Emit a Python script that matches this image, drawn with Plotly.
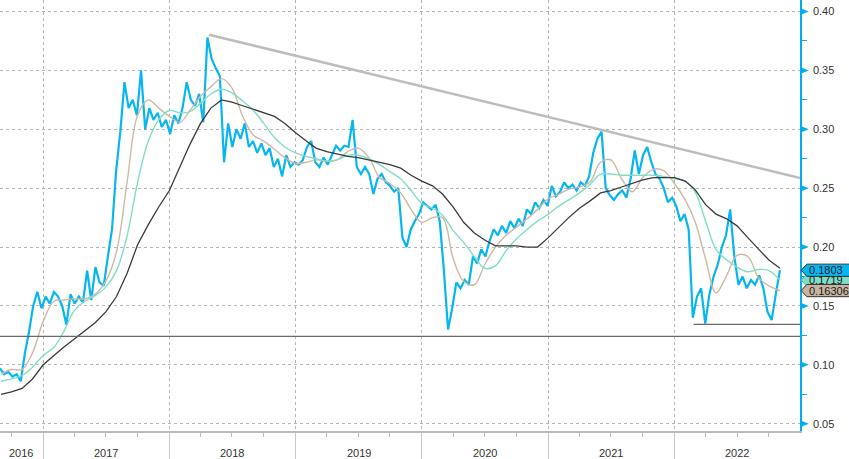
import pandas as pd
import plotly.graph_objects as go

# ---------------- data ----------------
price_start = "2016-08-29"
price_step = "12D"
price_vals = [
    0.097, 0.092, 0.094, 0.090, 0.092, 0.086, 0.110, 0.128, 0.150, 0.162,
    0.148, 0.158, 0.152, 0.162, 0.158, 0.150, 0.134, 0.160, 0.152, 0.158,
    0.153, 0.180, 0.155, 0.183, 0.170, 0.167, 0.192, 0.215, 0.265, 0.298,
    0.340, 0.318, 0.325, 0.312, 0.350, 0.300, 0.318, 0.308, 0.314, 0.302,
    0.308, 0.296, 0.312, 0.305, 0.318, 0.340, 0.325, 0.320, 0.330, 0.306,
    0.378, 0.360, 0.352, 0.345, 0.272, 0.305, 0.285, 0.300, 0.292, 0.305,
    0.285, 0.290, 0.280, 0.288, 0.278, 0.284, 0.268, 0.275, 0.260, 0.278,
    0.268, 0.272, 0.270, 0.274, 0.285, 0.290, 0.272, 0.268, 0.276, 0.270,
    0.278, 0.286, 0.282, 0.286, 0.285, 0.308, 0.268, 0.262, 0.268, 0.262,
    0.245, 0.258, 0.262, 0.255, 0.252, 0.247, 0.250, 0.208, 0.200, 0.215,
    0.222, 0.228, 0.238, 0.235, 0.232, 0.236, 0.222, 0.180, 0.130, 0.148,
    0.170, 0.165, 0.172, 0.168, 0.192, 0.186, 0.198, 0.192, 0.205, 0.215,
    0.210, 0.218, 0.212, 0.222, 0.216, 0.224, 0.218, 0.232, 0.228, 0.238,
    0.233, 0.240, 0.235, 0.252, 0.243, 0.247, 0.255, 0.250, 0.253, 0.248,
    0.255, 0.252, 0.260, 0.280, 0.292, 0.298, 0.250, 0.244, 0.240, 0.245,
    0.248, 0.242, 0.258, 0.282, 0.262, 0.278, 0.285, 0.272, 0.262, 0.258,
    0.250, 0.238, 0.242, 0.235, 0.222, 0.228, 0.215, 0.140, 0.158, 0.165,
    0.135, 0.160, 0.175, 0.185, 0.200, 0.210, 0.232, 0.192, 0.168, 0.175,
    0.165, 0.172, 0.168, 0.176, 0.165, 0.145, 0.138, 0.160, 0.1803,
]

ma_month_start = "2016-09-01"
ma_month_end = "2022-10-01"
ma_last_date = "2022-11-02"

ma_fast = [  # tan
    0.092, 0.096, 0.096, 0.110, 0.137, 0.154, 0.155, 0.156, 0.156, 0.160,
    0.171, 0.196, 0.256, 0.312, 0.325, 0.318, 0.311, 0.306, 0.316, 0.328,
    0.336, 0.343, 0.335, 0.311, 0.295, 0.290, 0.283, 0.276, 0.271, 0.272,
    0.274, 0.273, 0.274, 0.281, 0.284, 0.276, 0.259, 0.254, 0.246, 0.232,
    0.221, 0.225, 0.225, 0.190, 0.171, 0.168, 0.185, 0.200, 0.210, 0.217,
    0.224, 0.232, 0.241, 0.245, 0.249, 0.251, 0.255, 0.272, 0.274, 0.258,
    0.247, 0.259, 0.266, 0.265, 0.254, 0.240, 0.222, 0.190, 0.161, 0.176,
    0.193, 0.192, 0.174, 0.167, 0.16306,
]
ma_mid = [  # green
    0.086, 0.088, 0.091, 0.098, 0.108, 0.115, 0.128, 0.146, 0.154, 0.159,
    0.166, 0.180, 0.210, 0.255, 0.290, 0.308, 0.316, 0.314, 0.315, 0.322,
    0.330, 0.334, 0.331, 0.324, 0.316, 0.305, 0.293, 0.285, 0.280, 0.277,
    0.275, 0.273, 0.274, 0.278, 0.278, 0.275, 0.270, 0.264, 0.258, 0.248,
    0.237, 0.233, 0.227, 0.214, 0.204, 0.192, 0.182, 0.184, 0.197, 0.207,
    0.215, 0.222, 0.228, 0.235, 0.240, 0.246, 0.253, 0.262, 0.262, 0.261,
    0.261, 0.261, 0.261, 0.260, 0.258, 0.256, 0.247, 0.222, 0.198, 0.189,
    0.183, 0.179, 0.181, 0.180, 0.1719,
]
ma_slow = [  # black
    0.075, 0.077, 0.080, 0.088, 0.100, 0.108, 0.115, 0.122, 0.129, 0.136,
    0.145, 0.158, 0.178, 0.202, 0.219, 0.234, 0.248, 0.268, 0.287, 0.305,
    0.318, 0.325, 0.323, 0.320, 0.317, 0.314, 0.311, 0.305, 0.297, 0.290,
    0.284, 0.281, 0.279, 0.277, 0.276, 0.274, 0.272, 0.270, 0.267, 0.261,
    0.256, 0.252, 0.245, 0.234, 0.221, 0.212, 0.206, 0.201, 0.201, 0.201,
    0.200, 0.200, 0.208, 0.217, 0.225, 0.233, 0.239, 0.246, 0.248, 0.251,
    0.254, 0.257, 0.259, 0.259, 0.259, 0.256, 0.249, 0.236, 0.228, 0.224,
    0.218, 0.208, 0.198, 0.189, 0.182,
]

trend_dates = ["2018-04-26", "2022-12-30"]
trend_vals = [0.3803, 0.2586]
support_dates = ["2022-02-25", "2022-12-30"]
support_vals = [0.1344, 0.1344]
base_level = 0.1241

year_labels = ["2016", "2017", "2018", "2019", "2020", "2021", "2022"]
year_label_dates = ["2016-10-30", "2017-07-02", "2018-07-02", "2019-07-02",
                    "2020-07-01", "2021-07-02", "2022-07-02"]
y_ticks = [0.05, 0.10, 0.15, 0.20, 0.25, 0.30, 0.35, 0.40]

# ---------------- styling ----------------
FONT = "Liberation Sans, Arial, sans-serif"
CYAN = "#08B6EF"
TAN = "#CDB9A5"
GREEN = "#80DEC6"
BLACK = "#3A3A3A"
AXIS_CYAN = "#00ADEF"

price_dates = pd.date_range(price_start, periods=len(price_vals), freq=price_step)
ma_dates = list(pd.date_range(ma_month_start, ma_month_end, freq="MS")) + [pd.Timestamp(ma_last_date)]

fig = go.Figure()
fig.add_trace(go.Scatter(x=price_dates, y=price_vals, mode="lines",
                         line=dict(color=CYAN, width=2.2), hoverinfo="skip"))
fig.add_trace(go.Scatter(x=ma_dates, y=ma_fast, mode="lines",
                         line=dict(color=TAN, width=1.4, shape="spline"), hoverinfo="skip"))
fig.add_trace(go.Scatter(x=ma_dates, y=ma_mid, mode="lines",
                         line=dict(color=GREEN, width=1.4, shape="spline"), hoverinfo="skip"))
fig.add_trace(go.Scatter(x=ma_dates, y=ma_slow, mode="lines",
                         line=dict(color=BLACK, width=1.3), hoverinfo="skip"))
fig.add_trace(go.Scatter(x=trend_dates, y=trend_vals, mode="lines",
                         line=dict(color="#BDBDBD", width=2.5), hoverinfo="skip"))
fig.add_trace(go.Scatter(x=support_dates, y=support_vals, mode="lines",
                         line=dict(color="#6A6A6A", width=1.2), hoverinfo="skip"))

shapes = []
# long horizontal support line
shapes.append(dict(type="line", xref="paper", x0=0, x1=1, yref="y",
                   y0=base_level, y1=base_level, line=dict(color="#6A6A6A", width=1.2)))
# triangles at y ticks
tri_h = 0.003
for t in y_ticks:
    shapes.append(dict(type="path", xref="paper", yref="y",
                       path=f"M 1.0,{t - tri_h} L 1.011,{t} L 1.0,{t + tri_h} Z",
                       fillcolor=AXIS_CYAN, line=dict(width=0)))

# value flags (green behind, then cyan, then tan)
flags = [(ma_mid[-1], GREEN, "#5fb9a3"), (price_vals[-1], CYAN, "#333333"),
         (ma_fast[-1], "#C8B4A0", "#333333")]
dy = 0.0052
annotations = []
for v, fc, lc in flags:
    shapes.append(dict(type="path", xref="paper", yref="y",
                       path=(f"M 1.0015,{v} L 1.0085,{v + dy} L 1.08,{v + dy} "
                             f"L 1.08,{v - dy} L 1.0085,{v - dy} Z"),
                       fillcolor=fc, line=dict(color=lc, width=1), layer="above"))
    annotations.append(dict(xref="paper", yref="y", x=1.0085, y=v, xanchor="left",
                            yanchor="middle", text=f"{v:g}", showarrow=False,
                            font=dict(family=FONT, size=11, color="#1a1a1a")))

for lab, d in zip(year_labels, year_label_dates):
    annotations.append(dict(xref="x", yref="paper", x=d, y=-0.05, xanchor="center",
                            yanchor="middle", text=lab, showarrow=False,
                            font=dict(family=FONT, size=11, color="#333333")))

fig.update_layout(
    width=849, height=459,
    margin=dict(l=0, r=49, t=0, b=28),
    paper_bgcolor="white", plot_bgcolor="white",
    showlegend=False,
    font=dict(family=FONT, size=11, color="#333333"),
    shapes=shapes,
    annotations=annotations,
    xaxis=dict(
        type="date", range=["2016-08-29", "2022-12-30"],
        showgrid=True, gridcolor="#B5B5B5", griddash="dot", gridwidth=1,
        dtick="M12", tick0="2017-01-01",
        ticks="outside", ticklen=28, tickcolor="#C8C8C8", tickwidth=1,
        showticklabels=False,
        showline=True, linecolor="#BBBBBB", linewidth=1.5,
        minor=dict(dtick="M3", tick0="2016-10-01", ticks="outside", ticklen=4,
                   tickcolor="#BBBBBB", showgrid=False),
        zeroline=False,
    ),
    yaxis=dict(
        side="right", range=[0.0438, 0.4098],
        tickvals=y_ticks, tickformat=".2f",
        tickfont=dict(family=FONT, size=11, color="#333333"),
        ticks="outside", ticklen=9, tickcolor="rgba(0,0,0,0)",
        showgrid=True, gridcolor="#B5B5B5", griddash="dot", gridwidth=1,
        showline=True, linecolor=AXIS_CYAN, linewidth=1.5,
        minor=dict(tickvals=[0.075, 0.125, 0.175, 0.225, 0.275, 0.325, 0.375],
                   ticks="outside", ticklen=5, tickcolor=AXIS_CYAN, showgrid=False),
        zeroline=False,
    ),
)

fig.write_html("out.html")
